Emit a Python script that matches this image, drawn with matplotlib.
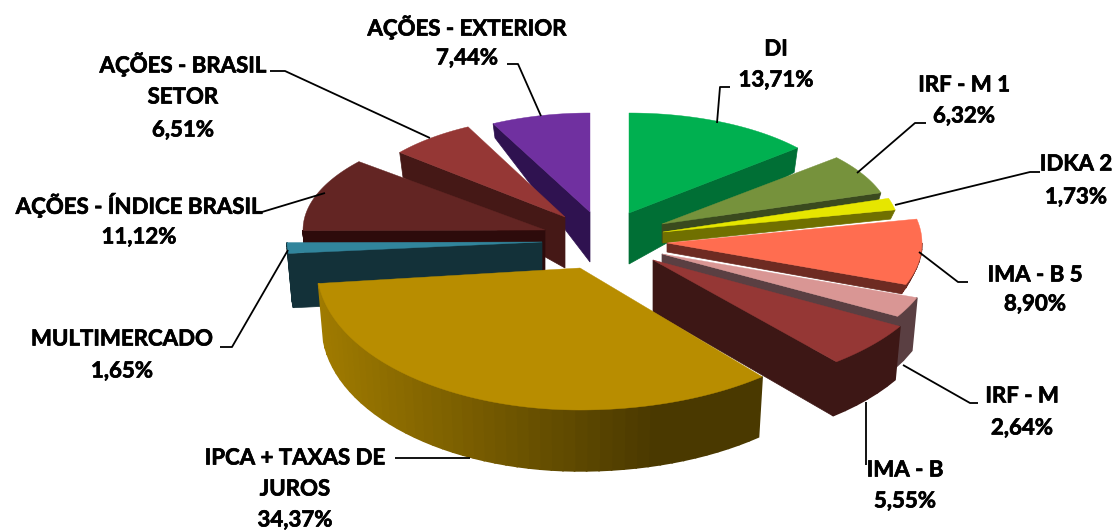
import numpy as np
import matplotlib
matplotlib.use("Agg")
import matplotlib.pyplot as plt
import matplotlib.patheffects as pe
from matplotlib.colors import to_rgb

labels = ["DI", "IRF - M 1", "IDKA 2", "IMA - B 5", "IRF - M", "IMA - B",
          "IPCA + TAXAS DE\nJUROS", "MULTIMERCADO", "AÇÕES - ÍNDICE BRASIL",
          "AÇÕES - BRASIL\nSETOR", "AÇÕES - EXTERIOR"]
values = [13.71, 6.32, 1.73, 8.90, 2.64, 5.55, 34.37, 1.65, 11.12, 6.51, 7.44]
value_text = ["13,71%", "6,32%", "1,73%", "8,90%", "2,64%", "5,55%",
              "34,37%", "1,65%", "11,12%", "6,51%", "7,44%"]

# look of each slice, measured on the picture
apex_x = [629, 662, 663, 667, 662, 653, 580, 542, 545, 565, 590]
apex_y = [213, 224, 232, 243, 254, 260, 268, 242, 230, 217, 212]
rad_x = [222, 230, 237, 255, 272, 285, 283, 255, 242, 215, 215]
rad_left = [222, 230, 237, 255, 272, 285, 263, 255, 242, 215, 215]
rad_y = [100, 102, 110, 119, 125, 133, 142, 105, 107, 101, 99]
depth = [51, 19, 11, 9, 52, 52, 58, 54, 42, 51, 50]
top_col = ["#00B050", "#76923C", "#E6E600", "#FF6D50", "#D99694", "#953735",
           "#B88D00", "#31859C", "#632523", "#953735", "#7030A0"]
wall_col = ["#006F35", "#3A4A1E", "#707000", "#6E2B22", "#5A3F42", "#3D1715",
            "#4A3900", "#133139", "#2D0B0B", "#451816", "#2F1250"]
wall_left = ["#006F35", "#3A4A1E", "#707000", "#6E2B22", "#5A3F42", "#3D1715",
             "#A07B00", "#133139", "#2D0B0B", "#451816", "#2F1250"]
draw_order = [10, 0, 9, 1, 8, 7, 2, 3, 4, 5, 6]

# where the text goes: x, y of first line, line step
text_x = [776, 964, 1076, 1035, 1022, 905, 295, 122, 139, 183, 467]
text_y = [49, 85, 164, 275, 396, 470, 458, 339, 205, 64, 27]
text_step = [31, 31, 33, 29, 32, 31, 31, 32, 32, 33, 31]
leaders = [[(730, 87), (720, 87), (717, 123)],
           [(926, 123), (915, 123), (857, 173)],
           [(1040, 172), (1030, 172), (895, 205)],
           [(968, 282), (958, 282), (919, 252)],
           [(978, 403), (970, 403), (903, 365)],
           [(866, 465), (866, 402)],
           [(395, 458), (470, 458)],
           [(220, 347), (232, 347), (288, 250)],
           [(262, 212), (325, 193)],
           [(270, 71), (285, 71), (430, 138)],
           [(507, 64), (518, 64), (541, 116)]]

plt.rcParams["font.family"] = ["Lato", "DejaVu Sans"]
fig = plt.figure(figsize=(11.16, 5.31), dpi=100)
ax = fig.add_axes([0, 0, 1, 1])
ax.set_xlim(0, 1116)
ax.set_ylim(531, 0)
ax.axis("off")

cum = np.cumsum([0] + values) / sum(values) * 360


def point(i, deg, r=1.0):
    t = np.radians(deg)
    s = np.sin(t)
    rx = np.where(s > 0, rad_x[i], rad_left[i])
    return apex_x[i] + rx * r * s, apex_y[i] - rad_y[i] * r * np.cos(t)


def drop(i, x, y, deg, r=1.0):
    # things far at the back have a thinner wall
    back = -np.cos(np.radians(deg)) * r
    d = depth[i] * np.interp(back, [-1, 0, 1], [0.2, 1, 1.05])
    return x - 0.02 * (x - apex_x[i]), y + d


for i in draw_order:
    a, b = cum[i], cum[i + 1]
    # straight cut walls, only the one turned to us
    for edge, side in ((a, -90), (b, 90)):
        if -np.cos(np.radians(edge + side)) > 0.01:
            rr = np.linspace(0, 1, 20)
            xs, ys = point(i, edge, rr)
            low = [drop(i, x, y, edge, r) for x, y, r in zip(xs, ys, rr)]
            px = list(xs) + [p[0] for p in low][::-1]
            py = list(ys) + [p[1] for p in low][::-1]
            ax.fill(px, py, color=wall_col[i], lw=0.5, zorder=2)
    # round wall, front half only
    lo, hi = max(a, 90), min(b, 270)
    if hi > lo:
        steps = np.linspace(lo, hi, max(3, int((hi - lo) / 2.5)))
        c0, c1 = np.array(to_rgb(wall_left[i])), np.array(to_rgb(wall_col[i]))
        xl, xh = point(i, hi)[0], point(i, lo)[0]
        for d0, d1 in zip(steps[:-1], steps[1:]):
            x0, y0 = point(i, d0)
            x1, y1 = point(i, d1)
            x2, y2 = drop(i, x1, y1, d1)
            x3, y3 = drop(i, x0, y0, d0)
            f = np.clip((x0 - xl) / max(xh - xl, 1), 0, 1)
            c = c0 + (c1 - c0) * min(f * 1.3, 1)
            ax.fill([x0, x1, x2, x3], [y0, y1, y2, y3], color=c, lw=1.2, zorder=2)
    # top face
    arc = np.linspace(a, b, max(3, int(b - a) * 2))
    tx, ty = point(i, arc)
    ax.fill(np.r_[apex_x[i], tx], np.r_[apex_y[i], ty], color=top_col[i], lw=0.3, zorder=2)

for i in range(len(values)):
    seg = leaders[i]
    ax.plot([p[0] for p in seg], [p[1] for p in seg], color="black", lw=1.3, zorder=3,
            solid_capstyle="butt")
    lines = labels[i].split("\n") + [value_text[i]]
    for n, s in enumerate(lines):
        ax.text(text_x[i], text_y[i] + n * text_step[i], s, ha="center", va="center",
                fontsize=16, fontweight="bold", color="black", zorder=4,
                path_effects=[pe.withStroke(linewidth=0.5, foreground="black")])

fig.savefig("out.png", dpi=100)
